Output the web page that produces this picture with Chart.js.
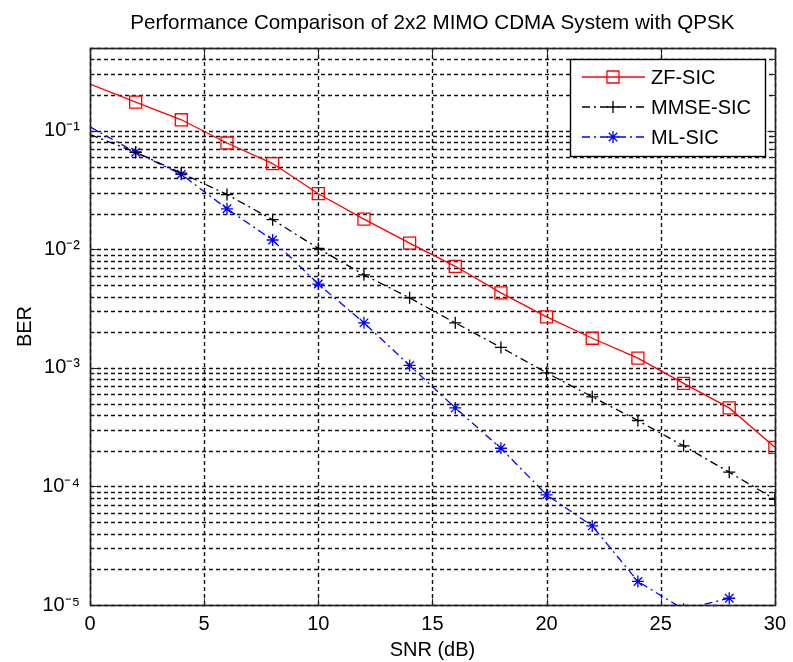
<!DOCTYPE html>
<html>
<head>
<meta charset="utf-8">
<script src="https://cdn.jsdelivr.net/npm/chart.js@4.4.1/dist/chart.umd.min.js"></script>
<style>
  html, body { margin: 0; padding: 0; background: #fff; }
  #wrap { width: 793px; height: 662px; }
</style>
</head>
<body>
<div id="wrap"><canvas id="berChart"></canvas></div>
<script>
// SNR points (dB)
var snr = [0, 2, 4, 6, 8, 10, 12, 14, 16, 18, 20, 22, 24, 26, 28, 30];
// BER
var zfSic   = [0.248, 0.175, 0.124, 0.079, 0.053, 0.0295, 0.018, 0.0113, 0.0072, 0.0043, 0.0027, 0.00178, 0.00121, 0.00074, 0.00046, 0.000214];
var mmseSic = [0.093, 0.066, 0.044, 0.029, 0.0178, 0.0102, 0.0061, 0.0039, 0.0024, 0.00149, 0.00091, 0.00057, 0.00036, 0.00022, 0.000132, 0.000078];
var mlSic   = [0.108, 0.066, 0.043, 0.022, 0.012, 0.0051, 0.0024, 0.00105, 0.00046, 0.00021, 0.000085, 0.0000465, 0.0000158, 0.0000092, 0.0000114];
var xTickStep = 5;
var decades = [1e-5, 1e-4, 1e-3, 1e-2, 1e-1];
var yMin = 1e-5, yMax = 0.5;

var FONT = '"Liberation Sans", Arial, sans-serif';
Chart.defaults.color = '#000';
Chart.defaults.font.family = FONT;

function pts(vals) {
  return vals.map(function (v, i) { return { x: snr[i], y: v }; });
}

// all 1..9 x 10^k positions for the log grid
var yTicks = [];
decades.forEach(function (d) {
  for (var m = 1; m <= 9; m++) {
    var v = +(m * d).toPrecision(3);
    if (v <= yMax) yTicks.push(v);
  }
});

function isDecade(v) {
  var e = Math.log10(v);
  return Math.abs(e - Math.round(e)) < 1e-6;
}

var sup = { '-': '\u207B', '0': '\u2070', '1': '\u00B9', '2': '\u00B2', '3': '\u00B3', '4': '\u2074', '5': '\u2075' };
function powLabel(v) {
  if (!isDecade(v)) return '';
  return '10' + String(Math.round(Math.log10(v))).split('').map(function (c) { return sup[c]; }).join('');
}

function hideFirst(r) {
  return function (c) { return c.dataIndex === 0 ? 0 : r; };
}

function drawMarker(ctx, style, r, x, y) {
  ctx.beginPath();
  if (style === 'rect') {
    var s = Math.SQRT1_2 * r;
    ctx.rect(x - s, y - s, 2 * s, 2 * s);
  } else {
    ctx.moveTo(x - r, y); ctx.lineTo(x + r, y);
    ctx.moveTo(x, y - r); ctx.lineTo(x, y + r);
    if (style === 'star') {
      var d = r * Math.SQRT1_2;
      ctx.moveTo(x - d, y - d); ctx.lineTo(x + d, y + d);
      ctx.moveTo(x - d, y + d); ctx.lineTo(x + d, y - d);
    }
  }
  ctx.stroke();
}

// dashed grid, placed from the chart's own scales
var dashedGrid = {
  id: 'dashedGrid',
  beforeDatasetsDraw: function (chart) {
    var ctx = chart.ctx, a = chart.chartArea;
    var xs = chart.scales.x, ys = chart.scales.y;
    ctx.save();
    ctx.strokeStyle = '#111';
    ctx.lineWidth = 1.4;
    ctx.setLineDash([4, 3]);
    ctx.beginPath();
    yTicks.forEach(function (v) {
      var py = Math.round(ys.getPixelForValue(v)) + 0.5;
      ctx.moveTo(a.left, py); ctx.lineTo(a.right, py);
    });
    xs.ticks.forEach(function (t) {
      var px = Math.round(xs.getPixelForValue(t.value)) + 0.5;
      ctx.moveTo(px, a.top); ctx.lineTo(px, a.bottom);
    });
    ctx.stroke();
    ctx.restore();
  }
};

var frameAndLegend = {
  id: 'frameAndLegend',
  afterDatasetsDraw: function (chart) {
    var ctx = chart.ctx, a = chart.chartArea;
    var L = Math.round(a.left) + 0.5, R = Math.round(a.right) + 0.5;
    var T = Math.round(a.top) + 0.5, B = Math.round(a.bottom) + 0.5;
    ctx.save();
    ctx.strokeStyle = '#222';
    ctx.lineWidth = 1.6;
    ctx.setLineDash([]);
    ctx.strokeRect(L, T, R - L, B - T);

    // inside tick marks
    ctx.lineWidth = 1;
    ctx.beginPath();
    yTicks.forEach(function (v) {
      var py = Math.round(chart.scales.y.getPixelForValue(v)) + 0.5;
      var len = isDecade(v) ? 8 : 4;
      ctx.moveTo(L, py); ctx.lineTo(L + len, py);
      ctx.moveTo(R, py); ctx.lineTo(R - len, py);
    });
    chart.scales.x.ticks.forEach(function (t) {
      var px = Math.round(chart.scales.x.getPixelForValue(t.value)) + 0.5;
      ctx.moveTo(px, B); ctx.lineTo(px, B - 7);
      ctx.moveTo(px, T); ctx.lineTo(px, T + 7);
    });
    ctx.stroke();

    var x0 = Math.round(a.right) - 205, y0 = Math.round(a.top) + 11, w = 195, h = 97;
    ctx.fillStyle = '#fff';
    ctx.fillRect(x0, y0, w, h);
    ctx.strokeStyle = '#000';
    ctx.lineWidth = 1.4;
    ctx.strokeRect(x0 + 0.5, y0 + 0.5, w, h);
    chart.data.datasets.forEach(function (ds, i) {
      var y = y0 + 18 + i * 30;
      ctx.strokeStyle = ds.borderColor;
      ctx.lineWidth = ds.borderWidth;
      ctx.setLineDash(ds.borderDash || []);
      ctx.beginPath(); ctx.moveTo(x0 + 12, y); ctx.lineTo(x0 + 75, y); ctx.stroke();
      ctx.setLineDash([]);
      drawMarker(ctx, ds.pointStyle, ds.markerSize, x0 + 43, y);
      ctx.fillStyle = '#000';
      ctx.font = '20px ' + FONT;
      ctx.textBaseline = 'middle';
      ctx.fillText(ds.label, x0 + 81, y + 1);
    });
    ctx.restore();
  }
};

var bg = {
  id: 'bg',
  beforeDraw: function (chart) {
    var ctx = chart.ctx;
    ctx.save();
    ctx.fillStyle = '#fff';
    ctx.fillRect(0, 0, chart.width, chart.height);
    ctx.restore();
  }
};

new Chart(document.getElementById('berChart').getContext('2d'), {
  type: 'line',
  data: {
    datasets: [{
      label: 'ZF-SIC',
      data: pts(zfSic),
      borderColor: '#ff0000',
      borderWidth: 1.3,
      pointStyle: 'rect',
      markerSize: 8.5,
      pointRadius: hideFirst(8.5),
      pointBorderColor: '#ff0000',
      pointBackgroundColor: 'rgba(0,0,0,0)',
      pointBorderWidth: 1.3
    }, {
      label: 'MMSE-SIC',
      data: pts(mmseSic),
      borderColor: '#000000',
      borderWidth: 1.3,
      borderDash: [8, 4, 2, 4],
      pointStyle: 'cross',
      markerSize: 6,
      pointRadius: hideFirst(6),
      pointBorderColor: '#000000',
      pointBorderWidth: 1.3
    }, {
      label: 'ML-SIC',
      data: pts(mlSic),
      borderColor: '#0000ff',
      borderWidth: 1.3,
      borderDash: [8, 4, 2, 4],
      pointStyle: 'star',
      markerSize: 6,
      pointRadius: hideFirst(6),
      pointBorderColor: '#0000ff',
      pointBorderWidth: 1.3
    }]
  },
  options: {
    responsive: true,
    maintainAspectRatio: false,
    animation: false,
    devicePixelRatio: 1,
    layout: { padding: { left: 0, right: 11, top: 0, bottom: 0 } },
    plugins: {
      legend: { display: false },
      tooltip: { enabled: false },
      title: { display: false }
    },
    scales: {
      top: {
        type: 'linear',
        position: 'top',
        min: 0,
        max: 30,
        afterFit: function (s) { s.height = 48; },
        ticks: { display: false },
        grid: { display: false, drawTicks: false },
        border: { display: false },
        title: {
          display: true,
          text: 'Performance Comparison of 2x2 MIMO CDMA System with QPSK',
          font: { size: 20.6 },
          padding: { top: 11, bottom: 0 }
        }
      },
      x: {
        type: 'linear',
        min: 0,
        max: 30,
        afterFit: function (s) { s.height = 57; },
        ticks: { stepSize: xTickStep, font: { size: 20 }, padding: 7, maxRotation: 0 },
        grid: { display: false, drawTicks: false },
        border: { display: false },
        title: { display: true, text: 'SNR (dB)', font: { size: 20 }, padding: { top: 0, bottom: 0 } }
      },
      y: {
        type: 'logarithmic',
        min: yMin,
        max: yMax,
        afterFit: function (s) { s.width = 90; },
        afterBuildTicks: function (s) {
          s.ticks = yTicks.map(function (v) { return { value: v }; });
        },
        ticks: {
          autoSkip: false,
          font: { size: 20 },
          padding: 10,
          callback: function (v) { return powLabel(v); }
        },
        grid: { display: false, drawTicks: false },
        border: { display: false },
        title: { display: true, text: 'BER', font: { size: 20 }, padding: { top: 13, bottom: 0 } }
      }
    }
  },
  plugins: [bg, dashedGrid, frameAndLegend]
});
</script>
</body>
</html>
